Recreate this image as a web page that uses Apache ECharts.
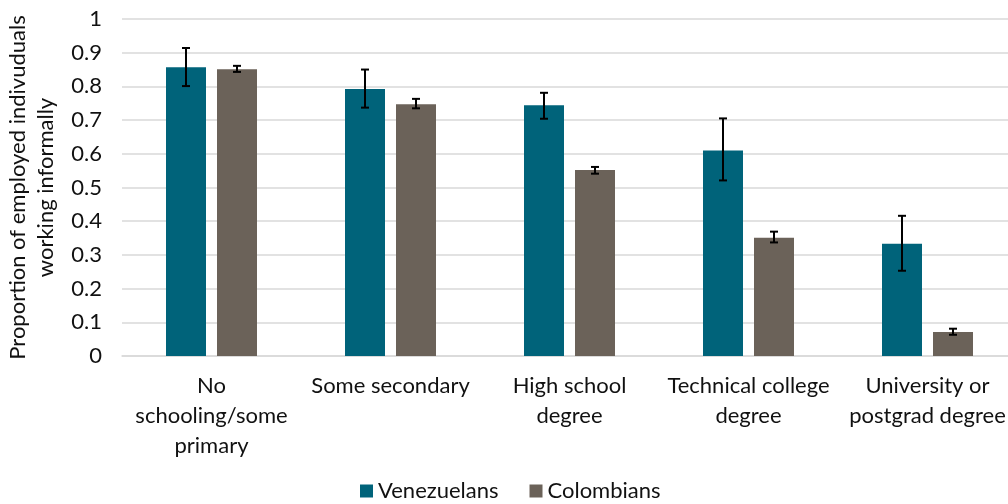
<!DOCTYPE html>
<html><head><meta charset="utf-8">
<script src="https://cdn.jsdelivr.net/npm/echarts@6/dist/echarts.min.js"></script>
<style>html,body{margin:0;padding:0;background:#fff}#c{width:1008px;height:504px}</style>
</head><body><div id="c"></div>
<script>
const categories = ['No\nschooling/some\nprimary', 'Some secondary', 'High school\ndegree', 'Technical college\ndegree', 'University or\npostgrad degree'];
const venezuelans = [0.857, 0.792, 0.744, 0.610, 0.333];
const venLow = [0.801, 0.737, 0.704, 0.521, 0.253];
const venHigh = [0.914, 0.850, 0.781, 0.705, 0.416];
const colombians = [0.851, 0.747, 0.552, 0.351, 0.071];
const colLow = [0.843, 0.735, 0.541, 0.337, 0.063];
const colHigh = [0.861, 0.763, 0.561, 0.369, 0.081];
const yTicks = [0, 0.1, 0.2, 0.3, 0.4, 0.5, 0.6, 0.7, 0.8, 0.9, 1];

const FONT = 'Lato';
const FS = 22;
const TXT = '#111';
const chart = echarts.init(document.getElementById('c'));
const BAR_W = 40, GAP = 11;

function errSeries(low, high, offset) {
  return {
    type: 'custom',
    z: 10,
    silent: true,
    data: categories.map((c, i) => [i, low[i], high[i]]),
    renderItem: function (params, api) {
      const lo = api.coord([api.value(0), api.value(1)]);
      const hi = api.coord([api.value(0), api.value(2)]);
      const x = lo[0] + offset;
      const cap = 4;
      const st = { stroke: '#000', lineWidth: 2 };
      return {
        type: 'group',
        children: [
          { type: 'line', shape: { x1: x, y1: hi[1], x2: x, y2: lo[1] }, style: st },
          { type: 'line', shape: { x1: x - cap, y1: hi[1], x2: x + cap, y2: hi[1] }, style: st },
          { type: 'line', shape: { x1: x - cap, y1: lo[1], x2: x + cap, y2: lo[1] }, style: st }
        ]
      };
    },
    encode: { x: 0, y: [1, 2] }
  };
}

chart.setOption({
  animation: false,
  textStyle: { fontFamily: FONT },
  grid: { left: 122, top: 19, width: 895, height: 337, containLabel: false, outerBoundsMode: 'none' },
  legend: {
    top: 480, left: 355, padding: [0, 5],
    itemWidth: 13, itemHeight: 13, itemGap: 31,
    icon: 'rect',
    textStyle: { fontSize: FS, color: TXT, fontFamily: FONT },
    data: ['Venezuelans', 'Colombians']
  },
  xAxis: {
    type: 'category',
    data: categories,
    axisLine: { show: true, lineStyle: { color: '#d9d9d9', width: 1.5 } },
    axisTick: { show: false },
    axisLabel: { color: TXT, fontSize: FS, lineHeight: 30, margin: 15, interval: 0, fontFamily: FONT }
  },
  yAxis: {
    type: 'value', min: 0, max: 1, interval: 0.1,
    name: 'Proportion of employed indivuduals\nworking informally',
    nameLocation: 'middle', nameRotate: 90, nameGap: 59,
    nameTextStyle: { fontSize: FS, color: TXT, lineHeight: 28, fontFamily: FONT },
    axisLine: { show: false }, axisTick: { show: false },
    splitLine: { lineStyle: { color: '#d9d9d9', width: 1.5 } },
    axisLabel: {
      color: TXT, fontSize: FS, margin: 20, fontFamily: FONT,
      formatter: v => { const t = yTicks.find(x => Math.abs(x - v) < 1e-9); return t === undefined ? '' : String(t); }
    }
  },
  series: [
    { name: 'Venezuelans', type: 'bar', data: venezuelans, barWidth: BAR_W, barGap: (GAP / BAR_W * 100) + '%',
      itemStyle: { color: '#00637A' } },
    { name: 'Colombians', type: 'bar', data: colombians, barWidth: BAR_W,
      itemStyle: { color: '#6B6259' } },
    errSeries(venLow, venHigh, -(BAR_W + GAP) / 2),
    errSeries(colLow, colHigh, (BAR_W + GAP) / 2)
  ]
});
</script></body></html>
